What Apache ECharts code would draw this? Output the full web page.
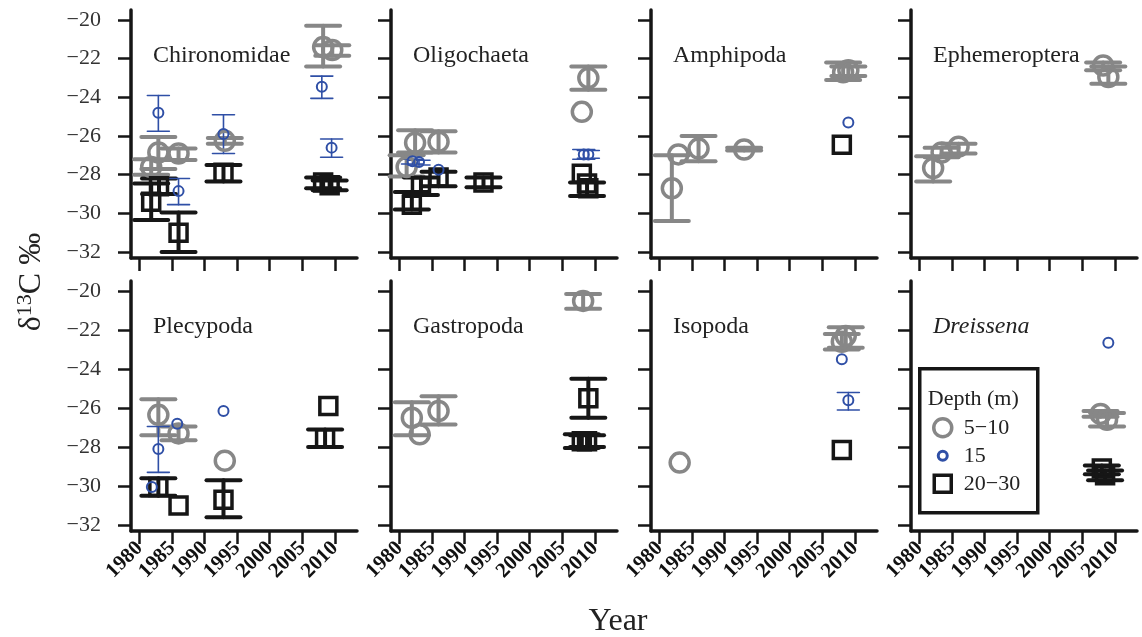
<!DOCTYPE html>
<html>
<head>
    <meta charset="utf-8">
    <title>δ13C by taxon</title>
    <style>
        html, body { margin: 0; padding: 0; background: #fff; }
    </style>
</head>
<body>
    <div id="main" style="width: 1142px;height:637px;"></div>
    <script src="https://cdn.jsdelivr.net/npm/echarts@6/dist/echarts.min.js"></script>
    <script type="text/javascript">
        // panels, left to right, top to bottom
        var taxa = ['Chironomidae', 'Oligochaeta', 'Amphipoda', 'Ephemeroptera',
                    'Plecypoda', 'Gastropoda', 'Isopoda', 'Dreissena'];
        var yearTicks = [1980, 1985, 1990, 1995, 2000, 2005, 2010];
        var deltaTicks = [-32, -30, -28, -26, -24, -22, -20];

        // [panel, year, mean, upper, lower]  (null = no error bar)
        var depth5_10 = [
            [0, 1981.8, -27.6, -27.2, -28.0],
            [0, 1982.9, -26.85, -26.05, -27.7],
            [0, 1986.0, -26.9, -26.64, -27.24],
            [0, 1993.1, -26.25, -26.1, -26.4],
            [0, 2008.2, -21.4, -20.3, -22.4],
            [0, 2009.6, -21.55, -21.3, -21.85],
            [1, 1981.1, -27.6, -27.0, -28.1],
            [1, 1982.4, -26.35, -25.7, -26.85],
            [1, 1986.0, -26.3, -25.75, -26.85],
            [1, 2009.0, -23.0, -22.4, -23.6],
            [1, 2008.0, -24.75, null, null],
            [2, 1981.9, -28.7, -27.0, -30.4],
            [2, 1982.9, -26.95, null, null],
            [2, 1986.0, -26.65, -26.0, -27.3],
            [2, 1993.0, -26.7, -26.6, -26.75],
            [2, 2008.2, -22.7, -22.2, -23.1],
            [2, 2009.0, -22.6, -22.4, -22.9],
            [3, 1982.1, -27.65, -27.05, -28.35],
            [3, 1983.4, -26.85, -26.6, -27.1],
            [3, 1986.0, -26.55, -26.4, -26.9],
            [3, 2008.2, -22.35, -22.2, -22.6],
            [3, 2009.0, -22.95, -22.4, -23.3],
            [4, 1982.9, -26.35, -25.55, -27.4],
            [4, 1986.0, -27.3, -26.95, -27.65],
            [4, 1993.1, -28.7, null, null],
            [5, 1981.9, -26.5, -25.7, -27.4],
            [5, 1983.1, -27.35, null, null],
            [5, 1986.0, -26.15, -25.4, -26.85],
            [5, 2008.2, -20.5, -20.15, -20.9],
            [6, 1983.1, -28.8, null, null],
            [6, 2008.0, -22.6, -22.2, -23.0],
            [6, 2008.6, -22.3, -21.85, -22.9],
            [7, 2007.8, -26.3, -26.15, -26.45],
            [7, 2008.8, -26.6, -26.25, -26.95]
        ];
        var depth15 = [
            [0, 1982.9, -24.8, -23.9, -25.75],
            [0, 1986.0, -28.85, -28.2, -29.55],
            [0, 1992.9, -25.9, -24.9, -26.9],
            [0, 2008.0, -23.45, -22.9, -24.05],
            [0, 2009.5, -26.6, -26.15, -27.1],
            [1, 1982.0, -27.3, -27.2, -27.45],
            [1, 1983.0, -27.35, -27.25, -27.5],
            [1, 1986.0, -27.75, null, null],
            [1, 2008.3, -26.95, -26.7, -27.2],
            [1, 2009.0, -26.95, -26.75, -27.15],
            [2, 2009.0, -25.3, null, null],
            [4, 1982.9, -28.1, -26.95, -29.3],
            [4, 1981.9, -30.05, null, null],
            [4, 1985.8, -26.8, null, null],
            [4, 1992.9, -26.15, null, null],
            [6, 2008.0, -23.5, null, null],
            [6, 2009.0, -25.6, -25.2, -26.1],
            [7, 2009.0, -22.65, null, null]
        ];
        var depth20_30 = [
            [0, 1981.8, -29.4, -28.45, -30.35],
            [0, 1983.0, -28.6, -28.2, -29.0],
            [0, 1986.0, -31.0, -29.95, -32.0],
            [0, 1992.9, -27.9, -27.5, -28.35],
            [0, 2008.2, -28.4, -28.15, -28.7],
            [0, 2009.2, -28.55, -28.3, -28.8],
            [1, 1981.9, -29.55, -28.9, -29.8],
            [1, 1983.3, -28.6, -28.15, -29.05],
            [1, 1986.0, -28.15, -27.85, -28.6],
            [1, 1992.9, -28.4, -28.15, -28.65],
            [1, 2008.0, -27.95, null, null],
            [1, 2008.8, -28.45, -28.4, -29.1],
            [1, 2009.0, -28.7, null, null],
            [2, 2008.0, -26.45, null, null],
            [4, 1982.9, -30.05, -29.6, -30.5],
            [4, 1986.0, -31.0, null, null],
            [4, 1992.9, -30.7, -29.7, -31.6],
            [4, 2009.0, -25.9, null, null],
            [4, 2008.5, -27.55, -27.1, -28.0],
            [5, 2009.0, -25.5, -24.5, -26.5],
            [5, 2008.0, -27.7, -27.35, -28.05],
            [5, 2008.8, -27.7, -27.4, -28.0],
            [6, 2008.0, -28.15, null, null],
            [7, 2008.0, -29.1, -28.95, -29.4],
            [7, 2008.5, -29.45, -29.2, -29.7]
        ];

        var SERIF = '"Liberation Serif", "DejaVu Serif", serif';
        var GRAY = '#878787', BLUE = '#2f4fa6', BLACK = '#161616';

        var myChart = echarts.init(document.getElementById('main'));

        var grids = [], xAxes = [], yAxes = [], titles = [], series = [];

        for (var i = 0; i < taxa.length; i++) {
            var col = i % 4, row = Math.floor(i / 4);
            grids.push({ left: 131 + 260 * col, top: row ? 281 : 10, width: 226, height: row ? 250 : 248 });
            xAxes.push({
                type: 'value', gridIndex: i, min: 1978.7, max: 2013.4,
                axisLine: { lineStyle: { color: BLACK, width: 3.5 } },
                axisTick: { customValues: yearTicks, length: 13, lineStyle: { color: BLACK, width: 2.5 } },
                axisLabel: {
                    show: row === 1, customValues: yearTicks, rotate: 45, margin: 14,
                    fontFamily: SERIF, fontWeight: 'bold', fontSize: 21, color: '#111',
                    formatter: function (v) { return String(v); }
                },
                splitLine: { show: false }
            });
            yAxes.push({
                type: 'value', gridIndex: i, min: -32.31, max: -19.48,
                axisLine: { show: true, lineStyle: { color: BLACK, width: 3.5 } },
                axisTick: { show: true, customValues: deltaTicks, length: 13, lineStyle: { color: BLACK, width: 2.5 } },
                axisLabel: {
                    show: col === 0, customValues: deltaTicks, margin: 30,
                    fontFamily: SERIF, fontSize: 22, color: '#333',
                    formatter: function (v) { return '\u2212' + Math.abs(v); }
                },
                splitLine: { show: false }
            });
            titles.push({
                text: taxa[i], left: 131 + 260 * col + 22, top: (row ? 281 : 10) + 34, padding: 0,
                textStyle: {
                    fontFamily: SERIF, fontWeight: 'normal', fontSize: 24, color: '#222',
                    fontStyle: taxa[i] === 'Dreissena' ? 'italic' : 'normal'
                }
            });
        }

        // vertical bar with flat caps, cap width in px
        function errorBars(rows, panel, color, capW, lw) {
            var d = rows.filter(function (r) { return r[0] === panel && r[3] !== null; })
                        .map(function (r) { return [r[1], r[3], r[4]]; });
            return {
                type: 'custom', xAxisIndex: panel, yAxisIndex: panel, data: d, silent: true,
                renderItem: function (params, api) {
                    var hi = api.coord([api.value(0), api.value(1)]);
                    var lo = api.coord([api.value(0), api.value(2)]);
                    var h = capW / 2;
                    var st = { stroke: color, lineWidth: lw, lineCap: 'round' };
                    return {
                        type: 'group', children: [
                            { type: 'line', shape: { x1: hi[0], y1: hi[1], x2: lo[0], y2: lo[1] }, style: st },
                            { type: 'line', shape: { x1: hi[0] - h, y1: hi[1], x2: hi[0] + h, y2: hi[1] }, style: st },
                            { type: 'line', shape: { x1: lo[0] - h, y1: lo[1], x2: lo[0] + h, y2: lo[1] }, style: st }
                        ]
                    };
                }
            };
        }

        function points(rows, panel, name, symbol, size, color, bw) {
            return {
                name: name, type: 'scatter', xAxisIndex: panel, yAxisIndex: panel,
                symbol: symbol, symbolSize: size,
                itemStyle: { color: 'rgba(0,0,0,0)', borderColor: color, borderWidth: bw, opacity: 1 },
                data: rows.filter(function (r) { return r[0] === panel; })
                          .map(function (r) { return [r[1], r[2]]; })
            };
        }

        for (var p = 0; p < taxa.length; p++) {
            series.push(errorBars(depth5_10, p, GRAY, 34, 4));
            series.push(points(depth5_10, p, '5\u221210', 'circle', 19, GRAY, 3.5));
            series.push(errorBars(depth20_30, p, BLACK, 34, 4));
            series.push(points(depth20_30, p, '20\u221230', 'rect', 17, BLACK, 3.5));
            series.push(errorBars(depth15, p, BLUE, 22, 1.6));
            series.push(points(depth15, p, '15', 'circle', 10, BLUE, 2));
        }

        var option = {
            animation: false,
            backgroundColor: '#fff',
            title: titles,
            grid: grids,
            xAxis: xAxes,
            yAxis: yAxes,
            series: series,
            graphic: [
                {
                    type: 'text', x: 32, y: 282, rotation: Math.PI / 2,
                    style: {
                        text: '{d|δ}{s|13}{d|C ‰}', align: 'center', verticalAlign: 'middle',
                        rich: {
                            d: { fontFamily: SERIF, fontSize: 32, lineHeight: 36, fill: '#222' },
                            s: { fontFamily: SERIF, fontSize: 22, lineHeight: 36, verticalAlign: 'top', fill: '#222' }
                        }
                    }
                },
                {
                    type: 'text', x: 618, y: 622,
                    style: { text: 'Year', font: '32px ' + SERIF, fill: '#222', align: 'center', verticalAlign: 'middle' }
                },
                // legend box
                {
                    type: 'group', left: 918, top: 367, children: [
                        { type: 'rect', shape: { x: 0, y: 0, width: 118, height: 144 }, style: { fill: '#fff', stroke: BLACK, lineWidth: 3.5 } },
                        { type: 'text', x: 8, y: 30, style: { text: 'Depth (m)', font: '22px ' + SERIF, fill: '#222', verticalAlign: 'middle' } },
                        { type: 'circle', shape: { cx: 23, cy: 59, r: 9 }, style: { fill: 'none', stroke: GRAY, lineWidth: 3.5 } },
                        { type: 'text', x: 44, y: 59, style: { text: '5\u221210', font: '22px ' + SERIF, fill: '#222', verticalAlign: 'middle' } },
                        { type: 'circle', shape: { cx: 23, cy: 87, r: 4.5 }, style: { fill: 'none', stroke: BLUE, lineWidth: 3 } },
                        { type: 'text', x: 44, y: 87, style: { text: '15', font: '22px ' + SERIF, fill: '#222', verticalAlign: 'middle' } },
                        { type: 'rect', shape: { x: 14.5, y: 106.5, width: 17, height: 17 }, style: { fill: 'none', stroke: BLACK, lineWidth: 3.5 } },
                        { type: 'text', x: 44, y: 115, style: { text: '20\u221230', font: '22px ' + SERIF, fill: '#222', verticalAlign: 'middle' } }
                    ]
                }
            ]
        };

        myChart.setOption(option);
    </script>
</body>
</html>
